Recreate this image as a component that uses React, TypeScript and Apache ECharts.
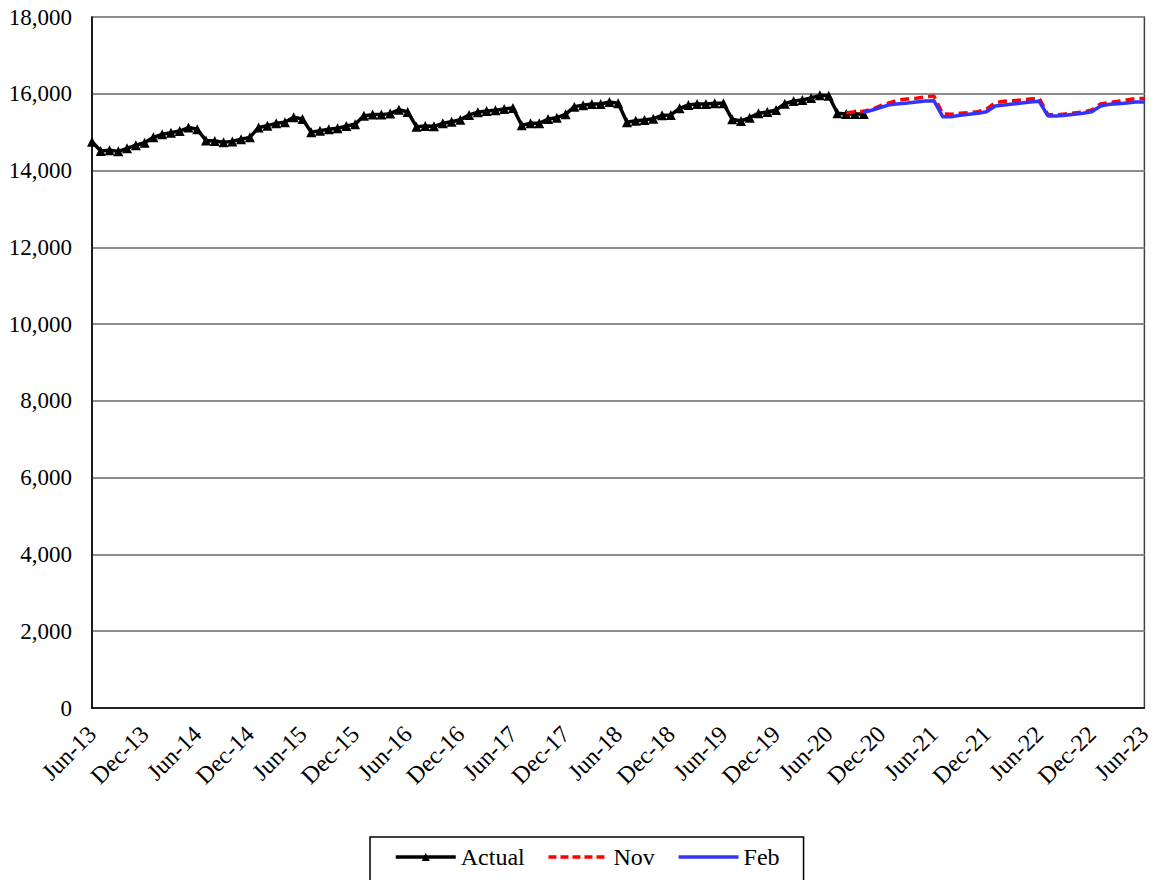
import React, { useEffect, useRef } from "react";
import * as echarts from "echarts";

const MONTHS = ["Jan", "Feb", "Mar", "Apr", "May", "Jun", "Jul", "Aug", "Sep", "Oct", "Nov", "Dec"];
// Monthly categories Jun-13 .. Jun-23
const categories: string[] = [];
for (let i = 0; i <= 120; i++) {
  const m = (5 + i) % 12;
  const y = 13 + Math.floor((5 + i) / 12);
  categories.push(`${MONTHS[m]}-${y}`);
}

// Actual: Jun-13 .. Oct-20
const actual = [
  14750, 14510, 14530, 14500, 14580, 14660, 14725, 14865, 14945, 14985, 15030, 15120,
  15075, 14780, 14770, 14735, 14760, 14815, 14865, 15120, 15170, 15230, 15257, 15387,
  15343, 15000, 15040, 15075, 15100, 15160, 15205, 15430, 15457, 15457, 15483, 15587,
  15525, 15143, 15160, 15153, 15230, 15273, 15325, 15450, 15518, 15552, 15570, 15604,
  15630, 15179, 15230, 15230, 15343, 15378, 15465, 15665, 15700, 15734, 15734, 15787,
  15752, 15257, 15300, 15317, 15352, 15440, 15448, 15622, 15708, 15734, 15734, 15752,
  15752, 15335, 15291, 15378, 15491, 15525, 15578, 15743, 15813, 15839, 15891, 15960,
  15951, 15491, 15474, 15474, 15474,
];

// Nov forecast: Aug-20 .. Jun-23
const novStart = "Aug-20";
const nov = [
  15500, 15534, 15545, 15600, 15700, 15770, 15840, 15865, 15882, 15917, 15943,
  15474, 15465, 15490, 15510, 15534, 15600, 15770, 15804, 15820, 15839, 15865, 15882,
  15456, 15448, 15474, 15500, 15525, 15578, 15734, 15770, 15804, 15839, 15874, 15874,
];

// Feb forecast: Oct-20 .. Jun-23
const febStart = "Oct-20";
const feb = [
  15518, 15578, 15648, 15717, 15743, 15760, 15787, 15813, 15821,
  15404, 15404, 15439, 15465, 15491, 15534, 15682, 15708, 15734, 15760, 15787, 15804,
  15422, 15422, 15439, 15465, 15491, 15534, 15682, 15726, 15743, 15760, 15787, 15787,
];

function pad(startLabel: string, vals: number[]) {
  const s = categories.indexOf(startLabel);
  const out: (number | null)[] = categories.map(() => null);
  vals.forEach((v, i) => (out[s + i] = v));
  return out;
}

const FONT = "Liberation Serif";

export default function App() {
  const ref = useRef<HTMLDivElement>(null);
  useEffect(() => {
    const chart = echarts.init(ref.current!, null, { renderer: "svg" });
    chart.setOption({
      animation: false,
      backgroundColor: "#fff",
      textStyle: { fontFamily: FONT },
      grid: {
        left: 92,
        right: 9,
        top: 17,
        bottom: 172,
        show: true,
        borderColor: "#404040",
        borderWidth: 1.5,
      },
      legend: {
        left: 370,
        top: 837,
        padding: [8, 24, 14, 24],
        borderColor: "#000",
        borderWidth: 1.5,
        itemGap: 22,
        itemWidth: 60,
        itemHeight: 10,
        textStyle: { fontFamily: FONT, fontSize: 24, color: "#000" },
        data: [
          { name: "Actual", lineStyle: { width: 3.5 } },
          { name: "Nov", itemStyle: { opacity: 0 }, lineStyle: { width: 3.5, type: [8, 4] } },
          { name: "Feb", itemStyle: { opacity: 0 }, lineStyle: { width: 3.5 } },
        ],
      },
      xAxis: {
        type: "category",
        data: categories,
        boundaryGap: false,
        axisLine: { lineStyle: { color: "#000", width: 1.5 } },
        axisTick: { show: false },
        axisLabel: {
          interval: 5,
          rotate: 45,
          margin: 22,
          fontFamily: FONT,
          fontSize: 24,
          color: "#000",
        },
        splitLine: { show: false },
      },
      yAxis: {
        type: "value",
        min: 0,
        max: 18000,
        interval: 2000,
        axisLine: { show: true, lineStyle: { color: "#000", width: 1.5 } },
        axisTick: { show: false },
        axisLabel: {
          margin: 20,
          fontFamily: FONT,
          fontSize: 23,
          color: "#000",
          formatter: (v: number) => v.toLocaleString("en-US"),
        },
        splitLine: { lineStyle: { color: "#8c8c8c", width: 2 } },
      },
      series: [
        {
          name: "Actual",
          type: "line",
          data: pad("Jun-13", actual),
          symbol: "triangle",
          symbolSize: 10,
          showAllSymbol: true,
          lineStyle: { color: "#000", width: 3.5 },
          itemStyle: { color: "#000" },
          z: 3,
        },
        {
          name: "Nov",
          type: "line",
          data: pad(novStart, nov),
          symbol: "none",
          lineStyle: { color: "#ff0000", width: 3.5, type: [9, 5] },
          itemStyle: { color: "#ff0000" },
          z: 4,
        },
        {
          name: "Feb",
          type: "line",
          data: pad(febStart, feb),
          symbol: "none",
          lineStyle: { color: "#3333ff", width: 3.5 },
          itemStyle: { color: "#3333ff" },
          z: 5,
        },
      ],
    });
    return () => chart.dispose();
  }, []);
  return <div ref={ref} style={{ width: 1155, height: 880, position: "absolute", left: 0, top: 0 }} />;
}
